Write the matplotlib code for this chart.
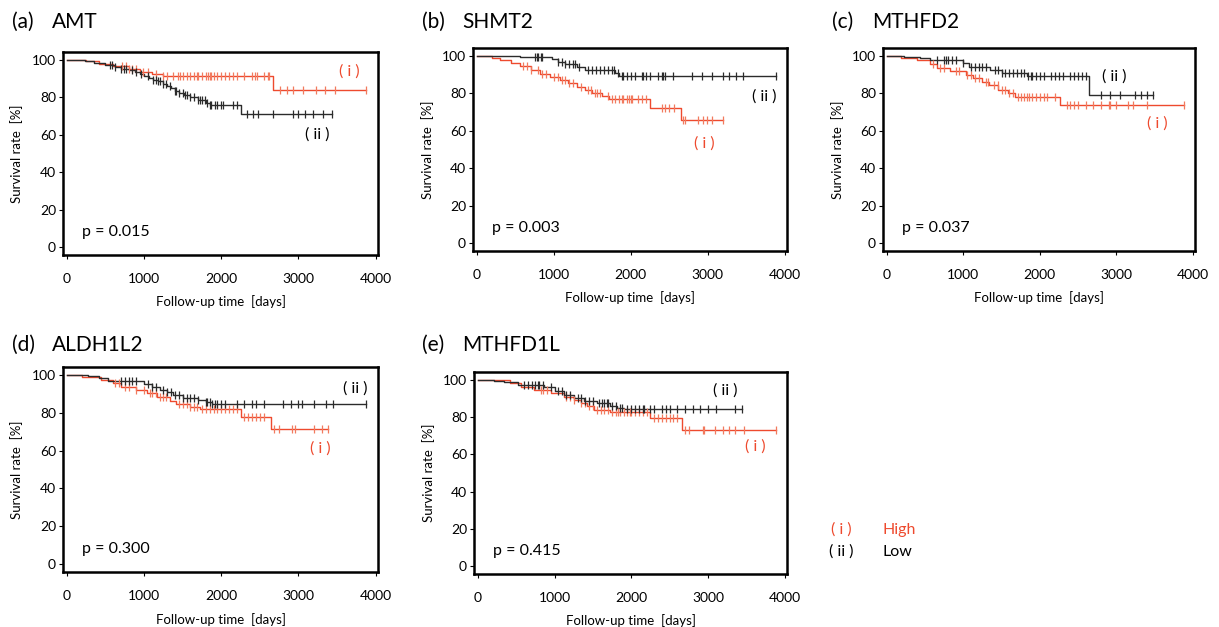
import numpy as np
import matplotlib
matplotlib.use("Agg")
import matplotlib.pyplot as plt

plt.rcParams['font.family'] = ['Lato', 'DejaVu Sans']

RED = '#ee4a2e'
RED_MARK = '#f27a5e'
BLACK = '#2b2b2b'

genes = ["AMT", "SHMT2", "MTHFD2", "ALDH1L2", "MTHFD1L"]
letters = ["(a)", "(b)", "(c)", "(d)", "(e)"]
p_values = ["p = 0.015", "p = 0.003", "p = 0.037", "p = 0.300", "p = 0.415"]

# High expression group (i): event times [days], survival after each event [%], censor times
high_steps = [
    [250, 420, 600, 800, 950, 1100, 1250, 2664],
    [200, 300, 450, 560, 700, 820, 950, 1080, 1180, 1300, 1400, 1500, 1620, 1720, 2250, 2650],
    [190, 400, 560, 650, 820, 1030, 1130, 1250, 1340, 1460, 1580, 1680, 2265],
    [200, 440, 600, 700, 900, 1040, 1170, 1330, 1420, 1600, 1720, 2250, 2650],
    [420, 560, 730, 950, 1120, 1250, 1340, 1420, 1510, 1720, 2250, 2660],
]
high_levels = [
    [99.3, 98.0, 96.5, 95.0, 93.5, 92.3, 91.2, 84.0],
    [99.0, 98.0, 96.2, 94.5, 92.5, 90.2, 88.7, 87.2, 85.5, 83.5, 82.0, 80.2, 78.5, 77.0, 72.0, 65.5],
    [99.0, 97.9, 95.4, 93.6, 91.8, 90.0, 88.2, 86.0, 84.2, 82.0, 80.2, 78.0, 73.9],
    [98.9, 97.3, 95.6, 93.8, 92.0, 90.3, 88.5, 86.3, 84.4, 82.8, 81.8, 78.0, 71.5],
    [98.2, 96.4, 94.6, 92.8, 91.0, 89.2, 87.5, 85.7, 84.0, 82.7, 79.4, 73.1],
]
high_censor = [
    [720, 760, 800, 850, 900, 980, 1050, 1150, 1250, 1300, 1380, 1440, 1470, 1500, 1550, 1600,
     1650, 1680, 1700, 1750, 1800, 1830, 1850, 1870, 1900, 1950, 2000, 2050, 2100, 2150, 2200,
     2300, 2400, 2440, 2460, 2550, 2600, 2620, 2760, 2845, 2930, 3060, 3230, 3340, 3470, 3880],
    [600, 650, 700, 800, 850, 900, 1000, 1050, 1100, 1150, 1200, 1250, 1350, 1450, 1480, 1530,
     1560, 1600, 1700, 1750, 1800, 1850, 1880, 1900, 1950, 1980, 2000, 2020, 2100, 2150, 2200,
     2400, 2450, 2500, 2560, 2680, 2700, 2880, 2940, 2990, 3060, 3200],
    [600, 700, 750, 900, 950, 1050, 1100, 1150, 1200, 1300, 1320, 1400, 1450, 1500, 1550, 1600,
     1650, 1720, 1750, 1800, 1830, 1860, 1900, 1950, 2000, 2050, 2100, 2200, 2350, 2400, 2450,
     2500, 2600, 2700, 2800, 2900, 2920, 3000, 3150, 3220, 3400, 3890],
    [620, 680, 750, 800, 900, 1000, 1080, 1100, 1150, 1200, 1250, 1280, 1450, 1500, 1550, 1600,
     1650, 1680, 1750, 1800, 1850, 1900, 1950, 2000, 2050, 2100, 2150, 2200, 2300, 2350, 2400,
     2450, 2500, 2550, 2680, 2750, 2920, 2950, 3200, 3300, 3380],
    [820, 850, 900, 1150, 1200, 1250, 1350, 1400, 1450, 1500, 1550, 1600, 1650, 1700, 1750, 1800,
     1830, 1850, 1900, 1950, 1980, 2000, 2050, 2100, 2150, 2200, 2300, 2350, 2400, 2450, 2500,
     2550, 2600, 2700, 2750, 2930, 2950, 3090, 3200, 3280, 3350, 3470, 3890],
]

# Low expression group (ii)
low_steps = [
    [230, 350, 500, 620, 700, 800, 880, 950, 1000, 1060, 1120, 1180, 1250, 1300, 1350, 1400,
     1450, 1520, 1600, 1700, 1800, 1850, 2250],
    [560, 980, 1050, 1150, 1300, 1400, 1800, 1850],
    [230, 430, 560, 1000, 1080, 1350, 1500, 1830, 2650],
    [270, 420, 530, 1000, 1100, 1200, 1300, 1380, 1500, 1700, 1800, 1880],
    [210, 340, 520, 860, 1000, 1120, 1250, 1380, 1550, 1720, 1810, 1900],
]
low_levels = [
    [99.5, 98.5, 97.3, 96.3, 95.3, 94.5, 93.5, 92.5, 91.5, 90.5, 89.5, 88.5, 87.3, 86.0, 84.8,
     83.5, 82.5, 81.0, 80.0, 78.5, 77.2, 75.8, 71.0],
    [99.2, 98.2, 96.8, 95.8, 94.0, 92.5, 90.8, 89.5],
    [99.6, 98.8, 97.6, 96.0, 94.0, 92.2, 91.0, 89.2, 79.0],
    [99.6, 98.2, 96.8, 95.0, 93.5, 92.0, 90.8, 89.4, 88.0, 86.7, 85.5, 84.6],
    [99.5, 98.6, 97.3, 95.9, 93.8, 92.0, 90.5, 88.8, 87.5, 86.2, 85.1, 84.2],
]
low_censor = [
    [560, 580, 620, 700, 740, 760, 850, 900, 960, 1050, 1120, 1150, 1180, 1200, 1250, 1280,
     1330, 1400, 1420, 1450, 1500, 1530, 1560, 1600, 1650, 1700, 1720, 1750, 1790, 1820, 1850,
     1870, 1920, 1950, 1990, 2020, 2150, 2200, 2330, 2410, 2480, 2670, 2930, 3000, 3080, 3190,
     3320, 3430],
    [750, 780, 800, 830, 850, 1050, 1100, 1150, 1200, 1250, 1280, 1330, 1450, 1500, 1550, 1600,
     1650, 1700, 1750, 1780, 1830, 1880, 1900, 1950, 2000, 2050, 2150, 2160, 2200, 2250, 2350,
     2400, 2420, 2450, 2550, 2800, 2930, 3050, 3200, 3280, 3370, 3460, 3890],
    [650, 750, 780, 800, 850, 900, 1000, 1100, 1150, 1200, 1250, 1300, 1420, 1450, 1500, 1550,
     1600, 1650, 1700, 1750, 1800, 1850, 1880, 1900, 1950, 2000, 2050, 2150, 2200, 2250, 2300,
     2400, 2450, 2500, 2550, 2600, 2800, 2920, 3050, 3250, 3320, 3400, 3485],
    [700, 750, 800, 850, 900, 1050, 1100, 1150, 1250, 1300, 1350, 1400, 1450, 1500, 1550, 1600,
     1650, 1700, 1800, 1820, 1850, 1880, 1920, 1950, 2000, 2050, 2200, 2300, 2400, 2450, 2550,
     2800, 2900, 3000, 3050, 3200, 3350, 3450, 3870],
    [600, 650, 700, 750, 780, 800, 850, 950, 1050, 1100, 1150, 1200, 1300, 1350, 1400, 1450,
     1500, 1580, 1620, 1650, 1680, 1700, 1750, 1800, 1850, 1880, 1950, 2000, 2050, 2100, 2150,
     2170, 2250, 2300, 2400, 2450, 2500, 2600, 2700, 2800, 2900, 3000, 3100, 3350, 3440],
]

# label positions (days, %) for "( i )" and "( ii )"
label_high = [(3660, 94), (2960, 53), (3540, 64), (3280, 61), (3620, 64)]
label_low = [(3240, 60), (3740, 78), (2970, 89), (3740, 93), (3230, 94.5)]

# axes rectangles in pixels: left, top, right, bottom
W, H = 1219, 627
boxes = [(63, 52, 378, 255), (473, 48, 787, 251), (883, 48, 1195, 251),
         (63, 367, 378, 572), (474, 372, 787, 574)]
title_pos = [(12, 22), (422, 22), (832, 22), (12, 345), (422, 345)]

fig = plt.figure(figsize=(W / 100, H / 100), dpi=100)


def survival_at(t, steps, levels):
    idx = np.searchsorted(steps, t, side='right')
    lv = np.concatenate([[100.0], levels])
    return lv[idx]


def draw_curve(ax, steps, levels, censor, color, mcolor):
    end = max(censor)
    xs = [0] + list(steps) + [end]
    ys = [100.0] + list(levels) + [levels[-1]]
    ax.step(xs, ys, where='post', color=color, lw=1.0, zorder=3)
    cy = [survival_at(c, steps, levels) for c in censor]
    ax.plot(censor, cy, ls='none', marker='|', ms=6, mew=0.9, color=mcolor, zorder=4)


for i in range(5):
    l, t, r, b = boxes[i]
    ax = fig.add_axes([l / W, 1 - b / H, (r - l) / W, (b - t) / H])
    draw_curve(ax, high_steps[i], high_levels[i], high_censor[i], RED, RED_MARK)
    draw_curve(ax, low_steps[i], low_levels[i], low_censor[i], BLACK, BLACK)
    ax.set_xlim(-50, 4030)
    ax.set_ylim(-4.3, 104.2)
    ax.set_xticks([0, 1000, 2000, 3000, 4000])
    ax.set_yticks([0, 20, 40, 60, 80, 100])
    ax.tick_params(direction='out', length=3, width=0.8, labelsize=10, pad=2)
    ax.tick_params(axis='x', pad=10)
    for s in ax.spines.values():
        s.set_linewidth(1.8)
    ax.text(-0.146, 0.5, "Survival rate  [%]", transform=ax.transAxes, rotation=90,
            ha='center', va='center', fontsize=9.5)
    ax.text(0.5, -0.23, "Follow-up time  [days]", transform=ax.transAxes,
            ha='center', va='center', fontsize=9.5)
    ax.text(0.06, 0.113, p_values[i], transform=ax.transAxes, ha='left', va='center',
            fontsize=11.5)
    hx, hy = label_high[i]
    ax.text(hx, hy, "( i )", color=RED, ha='center', va='center', fontsize=11.5)
    lx, ly = label_low[i]
    ax.text(lx, ly, "( ii )", color='black', ha='center', va='center', fontsize=11.5)
    tx, ty = title_pos[i]
    fig.text(tx / W, 1 - ty / H, letters[i], ha='left', va='center', fontsize=15)
    fig.text((tx + 40) / W, 1 - ty / H, genes[i], ha='left', va='center', fontsize=15)

# legend
fig.text(841 / W, 1 - 530 / H, "( i )", color=RED, ha='center', va='center', fontsize=11.5)
fig.text(883 / W, 1 - 530 / H, "High", color=RED, ha='left', va='center', fontsize=11.5)
fig.text(841 / W, 1 - 552 / H, "( ii )", color='black', ha='center', va='center', fontsize=11.5)
fig.text(883 / W, 1 - 552 / H, "Low", color='black', ha='left', va='center', fontsize=11.5)

fig.savefig("out.png", dpi=100)
